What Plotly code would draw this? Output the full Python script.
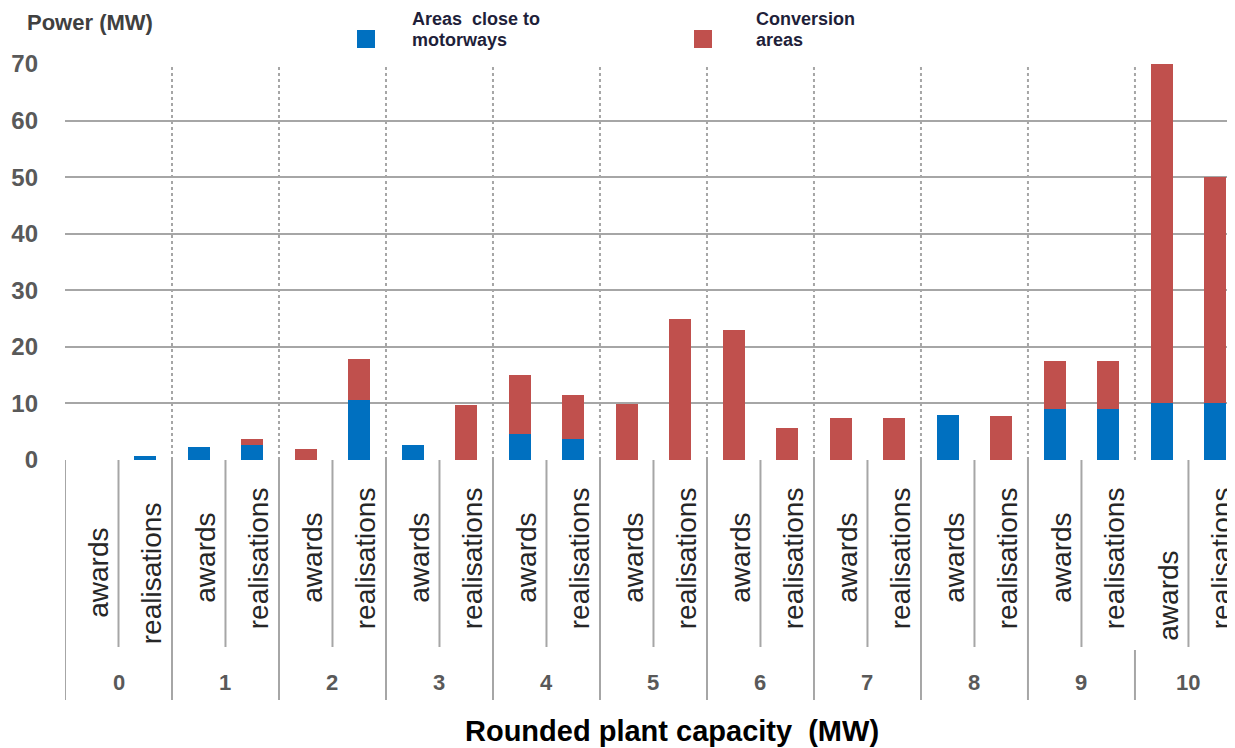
import plotly.graph_objects as go

# ---- data ----
capacities = ["0", "1", "2", "3", "4", "5", "6", "7", "8", "9", "10"]
kinds = ["awards", "realisations"]
motorway_awards = [0, 2.3, 0, 2.7, 4.6, 0, 0, 0, 8.0, 9.0, 10.0]
conversion_awards = [0, 0, 1.9, 0, 10.4, 9.9, 22.9, 7.5, 0, 8.5, 60.0]
motorway_realisations = [0.7, 2.7, 10.6, 0, 3.7, 0, 0, 0, 0, 9.0, 10.0]
conversion_realisations = [0, 1.0, 7.2, 9.7, 7.8, 24.9, 5.6, 7.5, 7.8, 8.5, 40.0]
y_ticks = [0, 10, 20, 30, 40, 50, 60, 70]
legend_lines_motorways = ["Areas \u00a0close to", "motorways"]
legend_lines_conversion = ["Conversion", "areas"]

BLUE = "#0070C0"
RED = "#C0504D"
GRID = "#A6A6A6"
FONT = "Liberation Sans"

OFF = 8  # page offset of the figure inside the browser window
W, H = 1235 - OFF, 748 - OFF
L, T = 65 - OFF, 64 - OFF
B = H - (460 - OFF)
plot_h = H - T - B

def py(pix):
    """reference pixel row -> paper y"""
    return ((460 - OFF) - (pix - OFF)) / plot_h

def px(pix):
    return ((pix - OFF) - L) / (W - L)

n = len(capacities)
x_aw = [2 * g for g in range(n)]
x_re = [2 * g + 1 for g in range(n)]
xs = []
mot = []
con = []
for g in range(n):
    xs += [x_aw[g], x_re[g]]
    mot += [motorway_awards[g], motorway_realisations[g]]
    con += [conversion_awards[g], conversion_realisations[g]]

fig = go.Figure()
fig.add_trace(go.Bar(x=xs, y=mot, name="Areas close to motorways",
                     marker=dict(color=BLUE, line=dict(width=0)), width=0.41))
fig.add_trace(go.Bar(x=xs, y=con, name="Conversion areas",
                     marker=dict(color=RED, line=dict(width=0)), width=0.41))

shapes = []
# dotted vertical gridlines between groups
for g in range(1, n):
    shapes.append(dict(type="line", xref="x", yref="paper", x0=2 * g - 0.5, x1=2 * g - 0.5,
                       y0=0, y1=1, line=dict(color=GRID, width=2, dash="dot"), layer="below"))
# category table lines below the axis
for g in range(n):
    xb = 2 * g - 0.5
    y_top = py(460) if g != 10 else py(650)
    shapes.append(dict(type="line", xref="x", yref="paper", x0=xb, x1=xb,
                       y0=y_top, y1=py(700), line=dict(color=GRID, width=2)))
    xm = 2 * g + 0.5
    shapes.append(dict(type="line", xref="x", yref="paper", x0=xm, x1=xm,
                       y0=py(460), y1=py(647), line=dict(color=GRID, width=2)))
# legend swatches
shapes.append(dict(type="rect", xref="paper", yref="paper", x0=px(357), x1=px(375),
                   y0=py(48), y1=py(30), fillcolor=BLUE, line=dict(width=0)))
shapes.append(dict(type="rect", xref="paper", yref="paper", x0=px(694), x1=px(712),
                   y0=py(48), y1=py(30), fillcolor=RED, line=dict(width=0)))

annotations = []
label_center = {0: 573}
for g in range(n):
    for k, kind in enumerate(kinds):
        yc = label_center.get(g, 558)
        if g == 10 and k == 0:
            yc = 596
        annotations.append(dict(text=kind, x=2 * g + k, xref="x", y=py(yc), yref="paper",
                                showarrow=False, textangle=-90, xshift=6,
                                font=dict(family=FONT, size=28, color="#262626"),
                                xanchor="center", yanchor="middle"))
    annotations.append(dict(text="<b>" + capacities[g] + "</b>", x=2 * g + 0.5, xref="x",
                            y=py(682), yref="paper",
                            showarrow=False, font=dict(family=FONT, size=22, color="#595959"),
                            xanchor="center", yanchor="middle"))

annotations.append(dict(text="<b>Rounded plant capacity \u00a0(MW)</b>", x=px(672), xref="paper",
                        y=py(731), yref="paper", showarrow=False,
                        font=dict(family=FONT, size=29, color="#000000"),
                        xanchor="center", yanchor="middle"))
annotations.append(dict(text="<b>Power (MW)</b>", x=px(25), xref="paper", y=py(22), yref="paper",
                        showarrow=False, font=dict(family=FONT, size=22, color="#404040"),
                        xanchor="left", yanchor="middle"))
for i, line in enumerate(legend_lines_motorways):
    annotations.append(dict(text="<b>" + line + "</b>", x=px(411), xref="paper",
                            y=py(19 + 21 * i), yref="paper", showarrow=False, align="left",
                            font=dict(family=FONT, size=18, color="#1F1F3A"),
                            xanchor="left", yanchor="middle", borderpad=0))
for i, line in enumerate(legend_lines_conversion):
    annotations.append(dict(text="<b>" + line + "</b>", x=px(755), xref="paper",
                            y=py(19 + 21 * i), yref="paper", showarrow=False, align="left",
                            font=dict(family=FONT, size=18, color="#1F1F3A"),
                            xanchor="left", yanchor="middle", borderpad=0))

fig.update_layout(
    width=W, height=H,
    margin=dict(l=L, r=0, t=T, b=B, pad=0),
    barmode="stack",
    showlegend=False,
    plot_bgcolor="white",
    paper_bgcolor="white",
    shapes=shapes,
    annotations=annotations,
    xaxis=dict(range=[-0.5, 21.37], showticklabels=False, showgrid=False,
               zeroline=False, showline=False, ticks=""),
    yaxis=dict(range=[0, 70], tickvals=y_ticks, showgrid=True, gridcolor=GRID, gridwidth=2,
               zeroline=False, showline=False, ticks="", ticklabelstandoff=26,
               tickfont=dict(family=FONT, size=24, color="#595959", weight="bold")),
)

fig.write_html("out.html")
